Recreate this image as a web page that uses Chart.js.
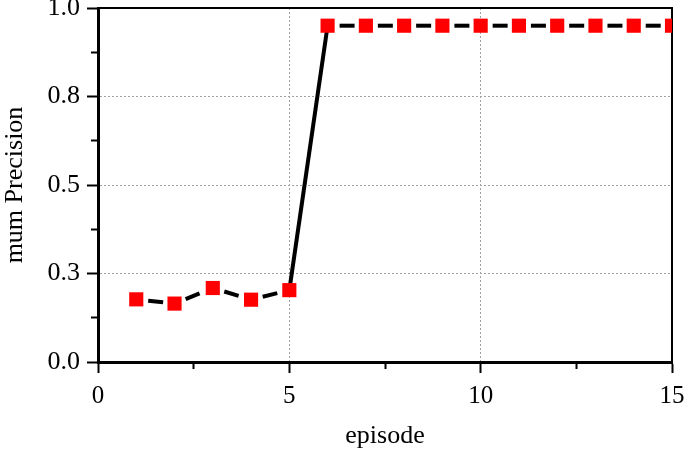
<!DOCTYPE html>
<html>
<head>
<meta charset="utf-8">
<script src="https://cdn.jsdelivr.net/npm/chart.js@4"></script>
<style>
  html, body { margin: 0; padding: 0; background: #fff; }
  #wrap { width: 685px; height: 452px; }
</style>
</head>
<body>
<div id="wrap"><canvas id="myChart"></canvas></div>
<script>
const episodes = [1, 2, 3, 4, 5, 6, 7, 8, 9, 10, 11, 12, 13, 14, 15];
const precision = [0.177, 0.165, 0.209, 0.176, 0.203, 0.95, 0.95, 0.95, 0.95, 0.95, 0.95, 0.95, 0.95, 0.95, 0.95];

const xTicks = [0, 5, 10, 15];
const xTickLabels = ['0', '5', '10', '15'];
const xMinorTicks = [2.5, 7.5, 12.5];
const yTicks = [0, 0.25, 0.5, 0.75, 1.0];
const yTickLabels = ['0.0', '0.3', '0.5', '0.8', '1.0'];
const yMinorTicks = [0.125, 0.375, 0.625, 0.875];

const ctx = document.getElementById('myChart');
Chart.defaults.color = '#000';
Chart.defaults.font.family = '"Liberation Serif", "Times New Roman", serif';

const setTicks = (values) => (scale) => {
  scale.ticks = values.map((v) => ({ value: v }));
};
const gridColor = (edges) => (c) => (edges.includes(c.tick.value) ? 'rgba(0,0,0,0)' : '#a0a0a0');
// fixed box sizes, and no extra room for labels that hang over the ends
const fixSize = (size) => (s) => {
  if (s.isHorizontal()) s.height = size; else s.width = size;
  s.paddingTop = s.paddingBottom = s.paddingLeft = s.paddingRight = 0;
};

new Chart(ctx, {
  type: 'line',
  data: {
    datasets: [
      {
        label: 'mum Precision',
        data: episodes.map((e, i) => ({ x: e, y: precision[i] })),
        borderColor: '#000',
        borderWidth: 4,
        pointStyle: 'rect',
        pointRadius: 10,
        pointBorderWidth: 0,
        pointBackgroundColor: '#ff0000',
        pointBorderColor: '#ff0000',
        segment: {
          // solid jump between episode 5 and 6, short centred dashes elsewhere
          borderDash: (s) => (s.p0DataIndex === 4 ? [] : [15, 24]),
          borderDashOffset: (s) => (s.p0DataIndex === 4 ? 0 : 27 + s.p0DataIndex * 0.001),
        },
      },
    ],
  },
  options: {
    responsive: true,
    maintainAspectRatio: false,
    animation: false,
    layout: { autoPadding: false, padding: { left: 0, top: 8, right: 13, bottom: 0 } },
    plugins: { legend: { display: false }, tooltip: { enabled: false } },
    scales: {
      x: {
        type: 'linear',
        position: 'bottom',
        weight: 10,
        min: 0,
        max: 15,
        afterBuildTicks: setTicks(xTicks),
        afterFit: fixSize(90),
        ticks: {
          autoSkip: false,
          maxRotation: 0,
          padding: 8,
          font: { size: 25 },
          callback: (v) => xTickLabels[xTicks.indexOf(v)],
        },
        grid: {
          color: gridColor([0, 15]),
          lineWidth: 1,
          tickLength: 11,
          tickColor: '#000',
          tickWidth: 2,
        },
        border: { display: true, color: '#000', width: 3, dash: [2, 2] },
        title: { display: true, text: 'episode', font: { size: 26 }, padding: 0 },
      },
      xMinor: {
        type: 'linear',
        position: 'bottom',
        weight: 0,
        min: 0,
        max: 15,
        afterBuildTicks: setTicks(xMinorTicks),
        afterFit: fixSize(0),
        ticks: { display: false },
        grid: { drawOnChartArea: false, tickLength: 7, tickColor: '#000', tickWidth: 2 },
        border: { display: false },
      },
      xTop: {
        type: 'linear',
        position: 'top',
        min: 0,
        max: 15,
        afterFit: fixSize(0),
        ticks: { display: false },
        grid: { display: false, drawTicks: false },
        border: { display: true, color: '#000', width: 2 },
      },
      y: {
        type: 'linear',
        position: 'left',
        weight: 10,
        min: 0,
        max: 1,
        afterBuildTicks: setTicks(yTicks),
        afterFit: fixSize(98),
        ticks: {
          autoSkip: false,
          padding: 7,
          font: { size: 26 },
          callback: (v) => yTickLabels[yTicks.indexOf(v)],
        },
        grid: {
          color: gridColor([0, 1]),
          lineWidth: 1,
          tickLength: 11,
          tickColor: '#000',
          tickWidth: 2,
        },
        border: { display: true, color: '#000', width: 3, dash: [2, 2] },
        title: { display: true, text: 'mum Precision', font: { size: 26 }, padding: 0 },
      },
      yMinor: {
        type: 'linear',
        position: 'left',
        weight: 0,
        min: 0,
        max: 1,
        afterBuildTicks: setTicks(yMinorTicks),
        afterFit: fixSize(0),
        ticks: { display: false },
        grid: { drawOnChartArea: false, tickLength: 7, tickColor: '#000', tickWidth: 2 },
        border: { display: false },
      },
      yRight: {
        type: 'linear',
        position: 'right',
        min: 0,
        max: 1,
        afterFit: fixSize(0),
        ticks: { display: false },
        grid: { display: false, drawTicks: false },
        border: { display: true, color: '#000', width: 2 },
      },
    },
  },
});
</script>
</body>
</html>
